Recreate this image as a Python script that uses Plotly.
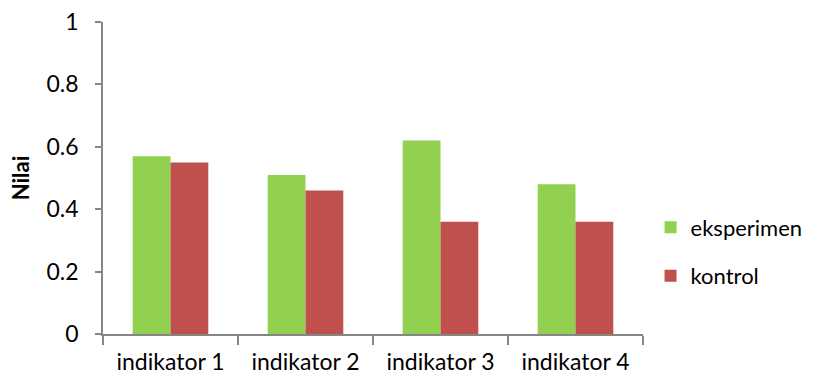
import plotly.graph_objects as go

categories = ["indikator 1", "indikator 2", "indikator 3", "indikator 4"]
eksperimen = [0.57, 0.51, 0.62, 0.48]
kontrol = [0.55, 0.46, 0.36, 0.36]
y_ticks = [0, 0.2, 0.4, 0.6, 0.8, 1]
y_labels = ["0", "0.2", "0.4", "0.6", "0.8", "1"]

FONT = "Lato, Open Sans, sans-serif"
AXIS = "#868686"

fig = go.Figure()
fig.add_trace(go.Bar(name="eksperimen", x=categories, y=eksperimen,
                     marker=dict(color="#92D050", line=dict(width=0)),
                     legendgroup="a"))
fig.add_trace(go.Bar(name="kontrol", x=categories, y=kontrol,
                     marker=dict(color="#C0504D", line=dict(width=0)),
                     legendgroup="b"))

fig.update_layout(
    width=814, height=378,
    margin=dict(l=103, r=171, t=22, b=44, autoexpand=False),
    paper_bgcolor="white", plot_bgcolor="white",
    barmode="group", bargap=0.44, bargroupgap=0,
    font=dict(family=FONT, size=22, color="black"),
    showlegend=True,
    legend=dict(x=1.014, y=0.263, xanchor="left", yanchor="middle",
                font=dict(size=22), tracegroupgap=17,
                itemwidth=30, bgcolor="rgba(0,0,0,0)"),
    xaxis=dict(showline=True, linecolor=AXIS, linewidth=1.5,
               ticks="outside", tickson="boundaries", ticklen=9,
               tickcolor=AXIS, tickwidth=1.5, showgrid=False,
               tickfont=dict(size=23), ticklabelstandoff=7,
               fixedrange=True, automargin=False),
    yaxis=dict(range=[0, 1], tickvals=y_ticks, ticktext=y_labels,
               showline=True, linecolor=AXIS, linewidth=1.5,
               ticks="outside", ticklen=6, tickcolor=AXIS, tickwidth=1.5,
               showgrid=False, zeroline=False, tickfont=dict(size=23),
               ticklabelstandoff=12, automargin=False,
               title=dict(text="<b>Nilai</b>", font=dict(size=22), standoff=11)),
)

fig.write_html("out.html")
